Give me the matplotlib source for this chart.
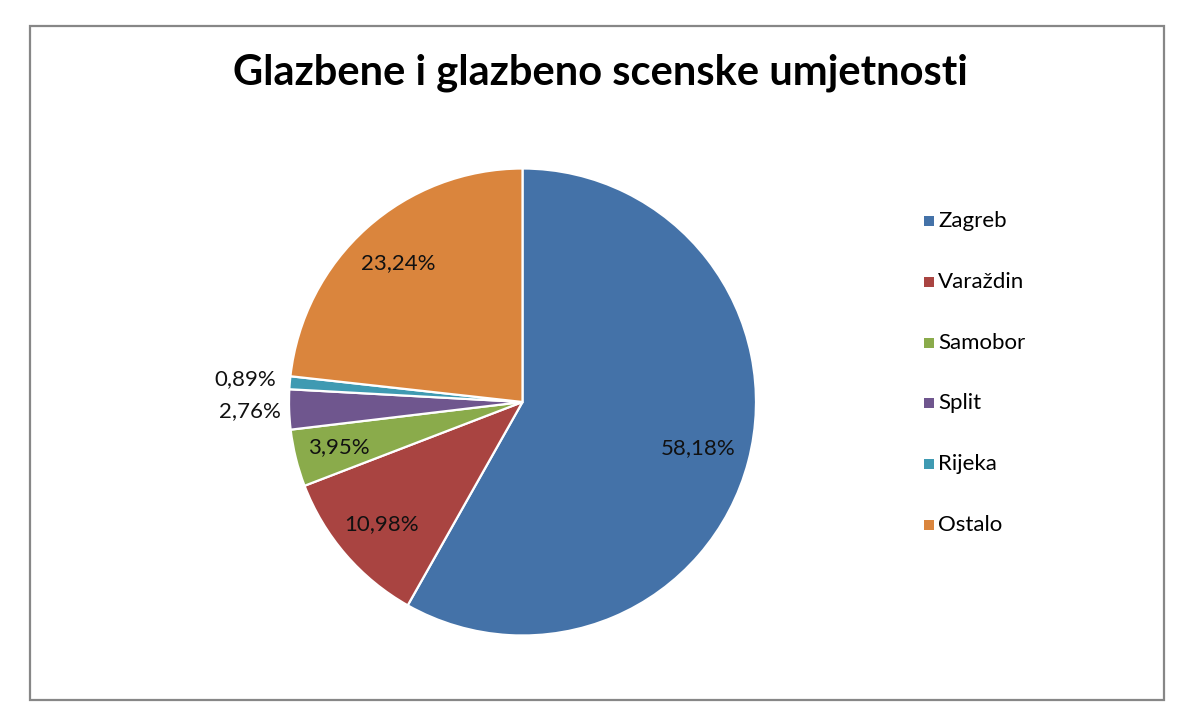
import numpy as np
import matplotlib.pyplot as plt
from matplotlib.patches import Rectangle

# chart data
title = 'Glazbene i glazbeno scenske umjetnosti'
cities = ['Zagreb', 'Varaždin', 'Samobor', 'Split', 'Rijeka', 'Ostalo']
shares = [58.18, 10.98, 3.95, 2.76, 0.89, 23.24]
colors = ['#4472A8', '#A94441', '#8AAB4B', '#6F568E', '#3F9AB2', '#DA853D']

# where each percentage label sits (fraction of radius)
label_dist = [0.78, 0.80, 0.81, 1.17, 1.19, 0.80]

plt.rcParams['font.family'] = ['Lato', 'DejaVu Sans']

W, H = 1200, 724
fig = plt.figure(figsize=(W / 100, H / 100), dpi=100)

# outer frame
fig.add_artist(Rectangle((30 / W, 1 - 700 / H), 1134 / W, 674 / H,
                         transform=fig.transFigure, fill=False,
                         edgecolor='#878787', linewidth=1.6))

fig.text(0.5, 1 - 73 / H, title, ha='center', va='center',
         fontsize=30, fontweight='bold', color='black')

# pie axes, centre (522, 402) px, radius 233 px
cx, cy, r = 522.5, 402, 233.5
ax = fig.add_axes([(cx - r) / W, 1 - (cy + r) / H, 2 * r / W, 2 * r / H])
wedges, _ = ax.pie(shares, colors=colors, startangle=90, counterclock=False,
                   radius=1, wedgeprops=dict(edgecolor='white', linewidth=1.6))
ax.set_xlim(-1, 1)
ax.set_ylim(-1, 1)
ax.set_aspect('equal')
ax.axis('off')

for w, val, d in zip(wedges, shares, label_dist):
    ang = np.deg2rad((w.theta1 + w.theta2) / 2)
    ax.text(d * np.cos(ang), d * np.sin(ang), f'{val:.2f}%'.replace('.', ','),
            ha='center', va='center', fontsize=16, color='#111111', clip_on=False)

# legend on the right
for i, (name, c) in enumerate(zip(cities, colors)):
    y = 221 + i * 60.8
    fig.add_artist(Rectangle((924 / W, 1 - (y + 5) / H), 10 / W, 10 / H,
                             transform=fig.transFigure, facecolor=c, edgecolor='none'))
    fig.text(938 / W, 1 - y / H, name, ha='left', va='center', fontsize=16)

fig.savefig('out.png', dpi=100)
